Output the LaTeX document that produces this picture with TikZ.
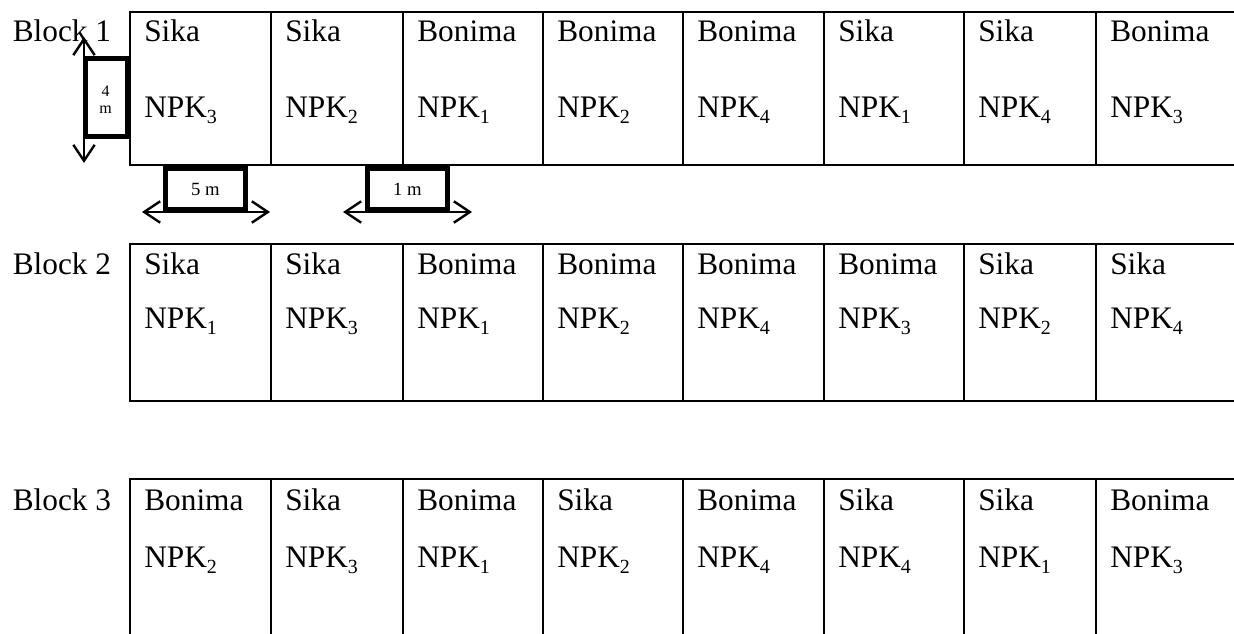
\documentclass[tikz,border=0pt]{standalone}
\usepackage{fontspec}
\setmainfont{Liberation Serif}
\usetikzlibrary{arrows.meta}
\newcommand{\npklabel}[1]{NPK\raisebox{-4.5pt}{\fontsize{15pt}{15pt}\selectfont #1}}
\begin{document}
\begin{tikzpicture}[x=0.75pt,y=-0.75pt,
  gridline/.style={line width=1.2pt},
  lbl/.style={anchor=base west,inner sep=0pt,font=\fontsize{23.5pt}{28pt}\selectfont},
  dimbox/.style={line width=3.6pt},
  dimtxt/.style={inner sep=0pt,align=center},
  dimarrow/.style={line width=1.8pt,{Straight Barb[length=12pt,width=16pt]}-{Straight Barb[length=12pt,width=16pt]}}]
\useasboundingbox (0,0) rectangle (1234,634);

% row frames
\draw[gridline] (1234,12) -- (130,12) -- (130,165) -- (1234,165);
\draw[gridline] (1234,244) -- (130,244) -- (130,401) -- (1234,401);
\draw[gridline] (1234,479) -- (130,479) -- (130,634);
\foreach \cc in {271,403,543,683,824,964,1096}{
  \draw[gridline] (\cc,12) -- (\cc,165);
  \draw[gridline] (\cc,244) -- (\cc,401);
  \draw[gridline] (\cc,479) -- (\cc,634);
}

% block labels
\node[lbl] (b1) at (12.5,42) {Block 1};
\node[lbl] (b2) at (12.5,274.5) {Block 2};
\node[lbl] (b3) at (12.5,510) {Block 3};

% row 1
\foreach \cx/\vv/\nn [count=\ii] in {144/Sika/3,285/Sika/2,417/Bonima/1,557/Bonima/2,697/Bonima/4,838/Sika/1,978/Sika/4,1110/Bonima/3}{
  \node[lbl] (ra\ii) at (\cx,42) {\vv};
  \node[lbl] (na\ii) at (\cx,117.5) {\npklabel{\nn}};
}
% row 2
\foreach \cx/\vv/\nn [count=\ii] in {144/Sika/1,285/Sika/3,417/Bonima/1,557/Bonima/2,697/Bonima/4,838/Bonima/3,978/Sika/2,1110/Sika/4}{
  \node[lbl] (rb\ii) at (\cx,274.5) {\vv};
  \node[lbl] (nb\ii) at (\cx,328.5) {\npklabel{\nn}};
}
% row 3
\foreach \cx/\vv/\nn [count=\ii] in {144/Bonima/2,285/Sika/3,417/Bonima/1,557/Sika/2,697/Bonima/4,838/Sika/4,978/Sika/1,1110/Bonima/3}{
  \node[lbl] (rc\ii) at (\cx,510) {\vv};
  \node[lbl] (nc\ii) at (\cx,567) {\npklabel{\nn}};
}

% dimension: 4 m
\draw[dimbox,fill=white] (85.5,58.5) rectangle (127.5,136.5);
\node[dimtxt,font=\fontsize{12pt}{13pt}\selectfont] (t4) at (105.5,100) {4\\m};
\coordinate (a4t) at (84,37);
\coordinate (a4b) at (84,163);
\draw[dimarrow] (a4t) -- (a4b);

% dimension: 5 m
\draw[dimbox,fill=white] (165.5,168.5) rectangle (245.5,209);
\node[dimtxt,font=\fontsize{14pt}{16pt}\selectfont] (t5) at (205.5,189) {5 m};
\coordinate (a5l) at (142,212);
\coordinate (a5r) at (270,212);
\draw[dimarrow] (a5l) -- (a5r);

% dimension: 1 m
\draw[dimbox,fill=white] (367.5,168.5) rectangle (447.5,209);
\node[dimtxt,font=\fontsize{14pt}{16pt}\selectfont] (t1) at (407.5,189) {1 m};
\coordinate (a1l) at (343,212);
\coordinate (a1r) at (472,212);
\draw[dimarrow] (a1l) -- (a1r);
\end{tikzpicture}
\end{document}
